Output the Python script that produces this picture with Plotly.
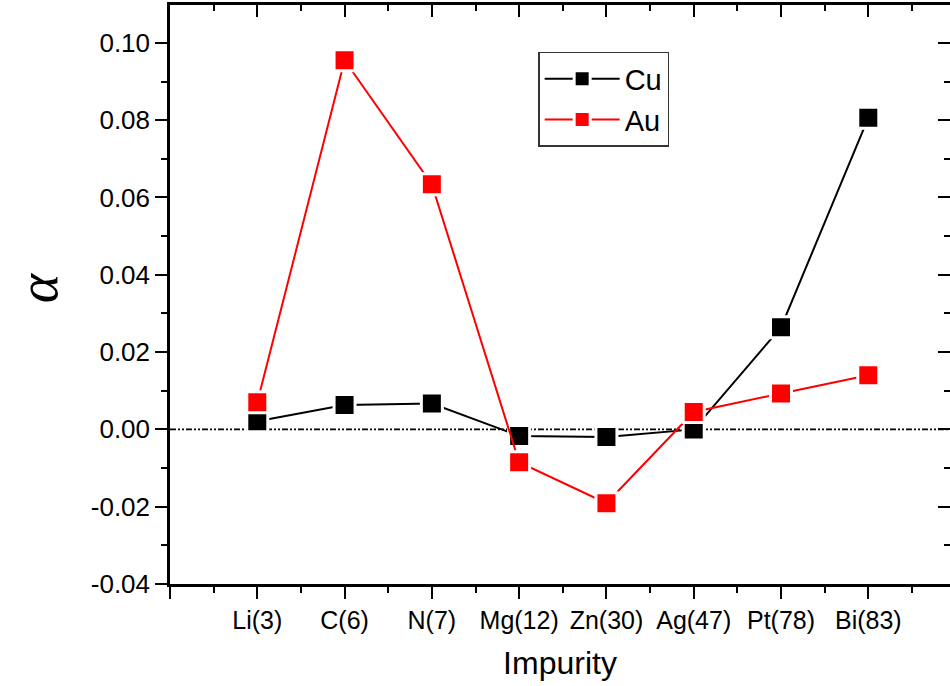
import plotly.graph_objects as go

# Impurity species (atomic number in brackets) and the alpha coefficient per host
impurities = ["Li(3)", "C(6)", "N(7)", "Mg(12)", "Zn(30)", "Ag(47)", "Pt(78)", "Bi(83)"]
alpha_cu = [0.0021, 0.0063, 0.0067, -0.0017, -0.0020, 0.0000, 0.0264, 0.0806]
alpha_au = [0.0070, 0.0955, 0.0634, -0.0085, -0.0191, 0.0045, 0.0093, 0.0140]

y_ticks = [-0.04, -0.02, 0.00, 0.02, 0.04, 0.06, 0.08, 0.10]
y_tick_labels = ["-0.04", "-0.02", "0.00", "0.02", "0.04", "0.06", "0.08", "0.10"]
y_minor = [-0.03, -0.01, 0.01, 0.03, 0.05, 0.07, 0.09]

positions = list(range(1, len(impurities) + 1))
x_major = [0] + positions + [len(impurities) + 1]
x_labels = [""] + impurities + [""]
x_minor = [p + 0.5 for p in range(0, len(impurities) + 1)]

X_RANGE = [0, 8.936]
Y_RANGE = [-0.04, 0.1098]

FONT = "Liberation Sans, Arial, sans-serif"
SERIF = "Liberation Serif, Times New Roman, serif"

fig = go.Figure()


def add_series(values, name, color):
    fig.add_trace(go.Scatter(
        x=positions, y=values, name=name, mode="lines+markers",
        line=dict(color=color, width=2),
        marker=dict(symbol="square", size=21, color=color,
                    line=dict(color="white", width=3)),
        hoverinfo="x+y+name",
    ))


add_series(alpha_cu, "Cu", "black")
add_series(alpha_au, "Au", "#ff0000")

# empty trace so the mirrored (top/right) axes get drawn
fig.add_trace(go.Scatter(x=[], y=[], xaxis="x2", yaxis="y2",
                         showlegend=False, hoverinfo="skip"))

axis_common = dict(linecolor="black", tickcolor="black", tickwidth=2,
                   zeroline=False, showgrid=False, automargin=False)

fig.update_layout(
    width=950, height=686,
    margin=dict(l=170, r=0, t=5, b=102),
    paper_bgcolor="white", plot_bgcolor="white",
    font=dict(family=FONT, color="black"),
    xaxis=dict(
        range=X_RANGE, tickmode="array", tickvals=x_major, ticktext=x_labels,
        ticks="outside", ticklen=12, showline=True, linewidth=2.5,
        tickfont=dict(size=25, family=FONT),
        minor=dict(tickmode="array", tickvals=x_minor, ticks="outside",
                   ticklen=6, tickwidth=2, tickcolor="black"),
        title=dict(text="Impurity", font=dict(size=32, family=FONT), standoff=19),
        **axis_common,
    ),
    yaxis=dict(
        range=Y_RANGE, tickmode="array", tickvals=y_ticks, ticktext=y_tick_labels,
        ticks="outside", ticklen=12, showline=True, linewidth=2.5,
        tickfont=dict(size=26, family=FONT),
        minor=dict(tickmode="array", tickvals=y_minor, ticks="outside",
                   ticklen=6, tickwidth=2, tickcolor="black"),
        **axis_common,
    ),
    xaxis2=dict(
        overlaying="x", side="top", anchor="y", range=X_RANGE,
        tickmode="array", tickvals=x_major, showticklabels=False,
        ticks="inside", ticklen=12, showline=True, linewidth=2.5,
        minor=dict(tickmode="array", tickvals=x_minor, ticks="inside",
                   ticklen=6, tickwidth=2, tickcolor="black"),
        **axis_common,
    ),
    yaxis2=dict(
        overlaying="y", side="right", anchor="x", range=Y_RANGE,
        tickmode="array", tickvals=y_ticks, showticklabels=False,
        ticks="inside", ticklen=12, showline=False,
        minor=dict(tickmode="array", tickvals=y_minor, ticks="inside",
                   ticklen=6, tickwidth=2, tickcolor="black"),
        **axis_common,
    ),
    legend=dict(
        x=0.472, y=0.919, xanchor="left", yanchor="top",
        bgcolor="white", bordercolor="#333333", borderwidth=1.5,
        font=dict(size=29, family=FONT), tracegroupgap=0, itemwidth=75,
    ),
    shapes=[dict(
        type="line", xref="paper", x0=0, x1=1, yref="y", y0=0, y1=0,
        line=dict(color="black", width=1.8, dash="6px,2px,2px,2px,2px,2px"),
        layer="below",
    )],
    # y-axis title: italic Greek alpha, rotated like a regular axis title
    annotations=[dict(
        text="<i>α</i>", xref="paper", yref="paper", x=-0.169, y=0.511,
        xanchor="center", yanchor="middle", textangle=-90, showarrow=False,
        font=dict(size=56, family=SERIF, color="black"),
    )],
    showlegend=True,
)

fig.write_html("out.html")
